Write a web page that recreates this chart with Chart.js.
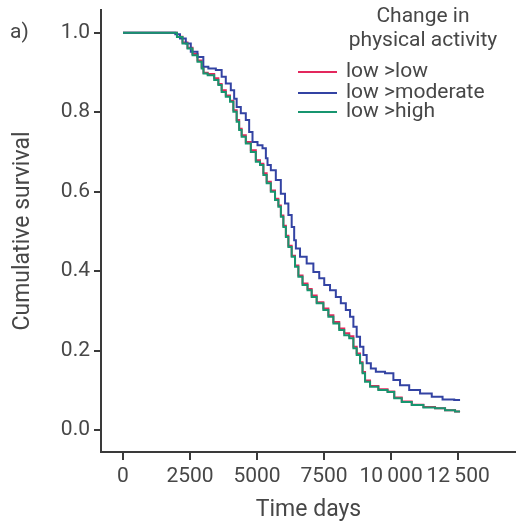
<!DOCTYPE html>
<html>
<head>
<meta charset="utf-8">
<title>Cumulative survival</title>
<script src="https://cdn.jsdelivr.net/npm/chart.js@4.4.1/dist/chart.umd.min.js"></script>
<style>
  html, body { margin: 0; padding: 0; background: #fff; }
  #wrap { width: 516px; height: 522px; }
</style>
</head>
<body>
<div id="wrap"><canvas id="km" width="516" height="522"></canvas></div>
<script>
// values (days, cumulative survival)
const lowLowDays = [0, 1900, 2127, 2313, 2500, 2686, 2873, 2996, 3010, 3309, 3496, 3619, 3742, 3929, 4056, 4179, 4302, 4365, 4488, 4675, 4862, 5048, 5175, 5298, 5421, 5608, 5735, 5858, 5921, 6044, 6108, 6231, 6354, 6481, 6604, 6790, 6977, 7100, 7350, 7600, 7723, 7973, 8160, 8346, 8533, 8656, 8779, 8906, 8966, 9093, 9339, 9712, 10025, 10212, 10585, 10958, 11454, 11827, 12200, 12573];
const lowLowSurv = [1.0, 1.0, 0.990, 0.975, 0.962, 0.946, 0.930, 0.913, 0.899, 0.896, 0.885, 0.871, 0.855, 0.842, 0.829, 0.805, 0.780, 0.758, 0.742, 0.725, 0.704, 0.679, 0.670, 0.646, 0.625, 0.603, 0.582, 0.565, 0.540, 0.514, 0.489, 0.464, 0.439, 0.414, 0.389, 0.369, 0.355, 0.339, 0.322, 0.306, 0.289, 0.272, 0.256, 0.244, 0.236, 0.210, 0.193, 0.171, 0.146, 0.125, 0.111, 0.103, 0.097, 0.082, 0.072, 0.064, 0.058, 0.055, 0.050, 0.047];

const lowModDays = [0, 1900, 2004, 2250, 2436, 2623, 2936, 3059, 3309, 3619, 3742, 3929, 4115, 4179, 4302, 4488, 4675, 4738, 4925, 5111, 5298, 5362, 5421, 5608, 5794, 5981, 6108, 6231, 6354, 6417, 6481, 6727, 6977, 7227, 7414, 7600, 7846, 8033, 8219, 8406, 8533, 8656, 8779, 8906, 9029, 9152, 9339, 9525, 10025, 10148, 10521, 10831, 11331, 11704, 12137, 12573];
const lowModSurv = [1.0, 1.0, 0.996, 0.985, 0.973, 0.952, 0.939, 0.914, 0.910, 0.906, 0.889, 0.872, 0.855, 0.834, 0.813, 0.797, 0.780, 0.750, 0.725, 0.717, 0.709, 0.684, 0.667, 0.654, 0.629, 0.595, 0.570, 0.541, 0.511, 0.478, 0.457, 0.436, 0.419, 0.398, 0.382, 0.365, 0.352, 0.335, 0.319, 0.302, 0.285, 0.260, 0.235, 0.210, 0.189, 0.168, 0.155, 0.147, 0.143, 0.126, 0.113, 0.101, 0.092, 0.084, 0.077, 0.076];

const lowHighDays = [0, 1900, 2127, 2313, 2500, 2686, 2873, 2996, 3010, 3309, 3496, 3619, 3742, 3929, 4056, 4179, 4302, 4365, 4488, 4675, 4862, 5048, 5175, 5298, 5421, 5608, 5735, 5858, 5921, 6044, 6108, 6231, 6354, 6481, 6604, 6790, 6977, 7100, 7350, 7600, 7723, 7973, 8160, 8346, 8533, 8656, 8779, 8906, 8966, 9093, 9339, 9712, 10025, 10212, 10585, 10958, 11454, 11827, 12200, 12573];
const lowHighSurv = [1.0, 1.0, 0.989, 0.973, 0.960, 0.943, 0.927, 0.910, 0.897, 0.893, 0.881, 0.868, 0.851, 0.839, 0.826, 0.801, 0.776, 0.755, 0.738, 0.721, 0.700, 0.675, 0.667, 0.642, 0.621, 0.600, 0.579, 0.562, 0.537, 0.511, 0.486, 0.461, 0.436, 0.411, 0.386, 0.365, 0.352, 0.335, 0.319, 0.302, 0.285, 0.268, 0.252, 0.239, 0.231, 0.206, 0.189, 0.168, 0.143, 0.122, 0.109, 0.101, 0.096, 0.080, 0.071, 0.063, 0.057, 0.055, 0.050, 0.047];

const seriesLabels = ["low >low", "low >moderate", "low >high"];
const legendTitle = ["Change in", "physical activity"];
const xTickValues = [0, 2500, 5000, 7500, 10000, 12500];
const yTickValues = [0, 0.2, 0.4, 0.6, 0.8, 1.0];

const fontFamily = "Roboto, 'DejaVu Sans', sans-serif";
const textColor = "#474747";
const axisColor = "#3a3a3a";

function toPoints(days, surv) {
  return days.map((d, i) => ({ x: d, y: surv[i] }));
}

function fmtDays(v) {
  // 10 000 style grouping with a thin space
  return v >= 10000 ? String(v).replace(/(\d+)(\d{3})$/, "$1\u2009$2") : String(v);
}

// legend + panel letter
const kmLegend = {
  id: "kmLegend",
  afterDraw(chart) {
    const ctx = chart.ctx;
    ctx.save();
    ctx.fillStyle = textColor;
    ctx.textBaseline = "middle";
    ctx.font = "21px " + fontFamily;
    ctx.textAlign = "left";
    ctx.fillText("a)", 10, 33);
    ctx.textAlign = "center";
    ctx.fillText(legendTitle[0], 423, 17);
    ctx.fillText(legendTitle[1], 423, 41);
    ctx.textAlign = "left";
    const rows = [72, 93, 112];
    chart.data.datasets.forEach((ds, i) => {
      ctx.strokeStyle = ds.borderColor;
      ctx.lineWidth = 2;
      ctx.beginPath();
      ctx.moveTo(298, rows[i]);
      ctx.lineTo(337, rows[i]);
      ctx.stroke();
      ctx.fillStyle = textColor;
      ctx.fillText(ds.label, 346, rows[i]);
    });
    ctx.restore();
  }
};

new Chart(document.getElementById("km"), {
  type: "line",
  data: {
    datasets: [
      {
        label: seriesLabels[0],
        data: toPoints(lowLowDays, lowLowSurv),
        borderColor: "#e3285d",
        order: 3,
      },
      {
        label: seriesLabels[1],
        data: toPoints(lowModDays, lowModSurv),
        borderColor: "#3343a3",
        order: 2,
      },
      {
        label: seriesLabels[2],
        data: toPoints(lowHighDays, lowHighSurv),
        borderColor: "#17956f",
        order: 1,
      },
    ],
  },
  options: {
    responsive: false,
    animation: false,
    devicePixelRatio: 1,
    layout: { padding: { top: 10, right: 0, bottom: 0, left: 0 } },
    elements: {
      line: { borderWidth: 2, stepped: "middle", fill: false, tension: 0 },
      point: { radius: 0 },
    },
    plugins: {
      legend: { display: false },
      tooltip: { enabled: false },
    },
    scales: {
      x: {
        type: "linear",
        min: -820,
        max: 14660,
        afterBuildTicks: (scale) => { scale.ticks = xTickValues.map((v) => ({ value: v })); },
        afterFit: (scale) => {
          scale.height = 70;
          scale.paddingLeft = 0;
          scale.paddingRight = 0;
        },
        border: { display: true, color: axisColor, width: 2 },
        grid: { drawOnChartArea: false, drawTicks: true, tickLength: 8, color: axisColor, lineWidth: 2 },
        ticks: {
          callback: (v) => fmtDays(v),
          color: textColor,
          font: { family: fontFamily, size: 21 },
          padding: 4,
          maxRotation: 0,
          autoSkip: false,
        },
        title: {
          display: true,
          text: "Time days",
          color: textColor,
          font: { family: fontFamily, size: 23, lineHeight: 1 },
          padding: { top: 0, bottom: 0 },
        },
      },
      y: {
        min: -0.055,
        max: 1.057,
        afterBuildTicks: (scale) => { scale.ticks = yTickValues.map((v) => ({ value: v })); },
        afterFit: (scale) => {
          scale.width = 101;
          scale.paddingTop = 0;
          scale.paddingBottom = 0;
        },
        border: { display: true, color: axisColor, width: 2 },
        grid: { drawOnChartArea: false, drawTicks: true, tickLength: 7, color: axisColor, lineWidth: 2 },
        ticks: {
          callback: (v) => v.toFixed(1),
          color: textColor,
          font: { family: fontFamily, size: 21 },
          padding: 4,
        },
        title: {
          display: true,
          text: "Cumulative survival",
          color: textColor,
          font: { family: fontFamily, size: 23 },
          padding: { top: 9, bottom: 0 },
        },
      },
    },
  },
  plugins: [kmLegend],
});
</script>
</body>
</html>
